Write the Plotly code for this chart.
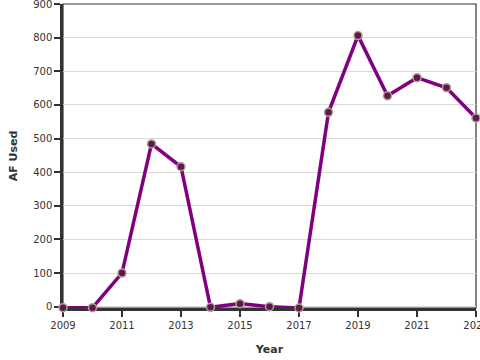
import plotly.graph_objects as go

years = [2009, 2010, 2011, 2012, 2013, 2014, 2015, 2016, 2017, 2018, 2019, 2020, 2021, 2022, 2023]
af_used = [-3, -3, 100, 484, 416, -2, 9, 0, -4, 578, 806, 627, 681, 651, 561]

fig = go.Figure()
fig.add_trace(go.Scatter(
    x=years, y=af_used, mode="lines+markers",
    line=dict(color="#800080", width=3.5),
    marker=dict(size=8, color="#5e1850", line=dict(color="#b0a090", width=1.5)),
    cliponaxis=False,
))

fig.add_shape(type="rect", xref="paper", yref="paper", x0=0, x1=1, y0=0, y1=1,
              line=dict(color="#333", width=1.2), layer="below")

fig.update_layout(
    width=480, height=360,
    margin=dict(l=63, r=4, t=4, b=52, autoexpand=False),
    plot_bgcolor="white", paper_bgcolor="white",
    showlegend=False,
    font=dict(family="DejaVu Sans", size=10, color="#333"),
    xaxis=dict(
        range=[2009, 2023], tickmode="linear", tick0=2009, dtick=2,
        showgrid=False, zeroline=False, automargin=False,
        showline=True, linecolor="#333", linewidth=2.5, layer="below traces",
        ticks="outside", ticklen=6, tickcolor="#333", tickwidth=1.5,
        ticklabeloverflow="allow",
        title=dict(text="<b>Year</b>", font=dict(size=11), standoff=16),
    ),
    yaxis=dict(
        range=[-4, 900], tickmode="linear", tick0=0, dtick=100,
        showgrid=True, gridcolor="#d9d9d9", gridwidth=1, zeroline=False,
        showline=True, linecolor="#333", linewidth=2.5, automargin=False, layer="below traces",
        ticks="outside", ticklen=6, tickcolor="#333", tickwidth=1.5,
        ticklabeloverflow="allow",
        title=dict(text="<b>AF Used</b>", font=dict(size=11), standoff=14),
    ),
)

fig.write_html("out.html", config={"displayModeBar": False},
               post_script="document.body.style.margin='0';document.body.style.overflow='hidden';")
